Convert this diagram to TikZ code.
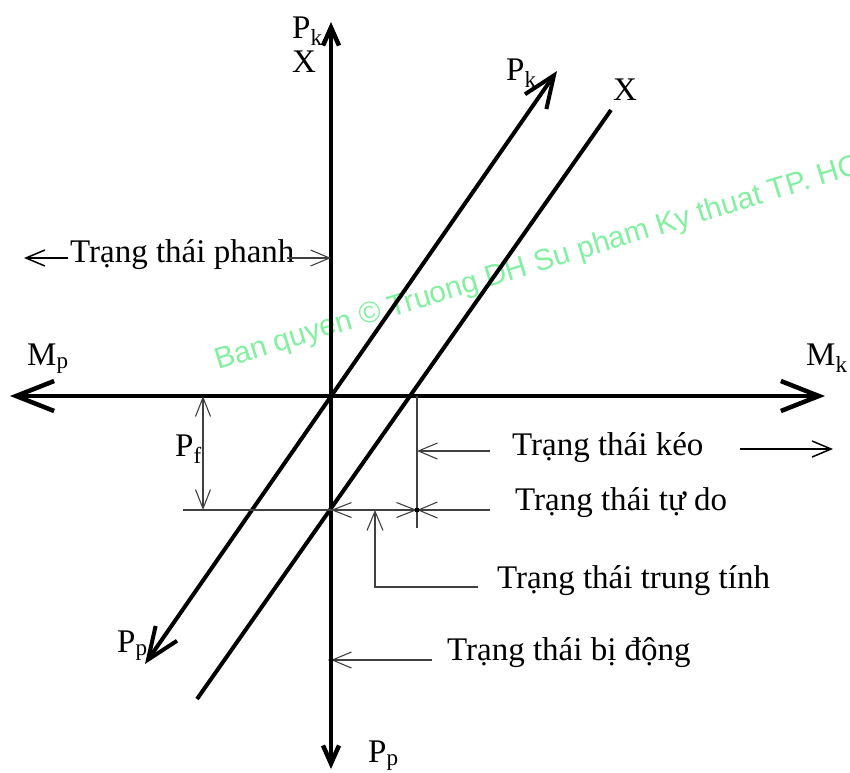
\documentclass[tikz,border=0pt]{standalone}
\usepackage{fontspec}
\setmainfont{Liberation Serif}
\newfontfamily\wmfont{Liberation Sans}
\usetikzlibrary{arrows.meta}
\definecolor{wmgreen}{RGB}{130,240,160}
\newcommand{\lsub}[2]{#1\textsubscript{#2}}

\tikzset{
  axis/.style={line width=4.5pt},
  diag/.style={line width=4pt},
  thin/.style={line width=1.1pt,black!75},
  arr/.style={line width=1.5pt},
  htip/.style={{Straight Barb[length=38pt,width=30pt]}-{Straight Barb[length=38pt,width=30pt]}},
  vtip/.style={-{Straight Barb[length=18pt,width=16pt]}},
  dtip/.style={{Straight Barb[length=32pt,width=26pt]}-{Straight Barb[length=32pt,width=26pt]}},
  ptip/.style={-{Straight Barb[length=19pt,width=16pt]}},
  dimtip/.style={{Straight Barb[length=19pt,width=15pt]}-{Straight Barb[length=19pt,width=15pt]}},
  lbl/.style={anchor=base west,inner sep=0pt},
  wm/.style={text=wmgreen,font=\wmfont\fontsize{29.8}{34}\selectfont,inner sep=0pt}
}

\begin{document}
\begin{tikzpicture}[x=1pt,y=-1pt,font=\fontsize{33}{38}\selectfont]
\useasboundingbox (0,0) rectangle (850,772);
% watermark
\begin{scope}
  \clip (0,0) rectangle (850,772);
  \node[wm,anchor=base west,rotate=17] (wm) at (218,370) {Ban quyen © Truong DH Su pham Ky thuat TP. HCM};
\end{scope}
% points
\coordinate (O) at (331,396);
\coordinate (Ml) at (10,396);   \coordinate (Mr) at (825,396);
\coordinate (Vt) at (331,22);   \coordinate (Vb) at (331,769);
\coordinate (Pt) at (557,71);   \coordinate (Pb) at (145,664);
\coordinate (Xt) at (611,110);  \coordinate (Xb) at (197,699);
\coordinate (F) at (331,510);   \coordinate (T) at (417,510);
\coordinate (K) at (417,396);   \coordinate (Kb) at (417,528);
\coordinate (Hl) at (183,510);  \coordinate (Hr) at (490,510);
\coordinate (Fa) at (203,396);  \coordinate (Fb) at (203,510);
\coordinate (B) at (331,660);
% axes
\draw[axis,htip] (Ml) -- (Mr);
\draw[axis,vtip] (O) -- (Vt);
\draw[axis,vtip] (O) -- (Vb);
\draw[diag,dtip] (Pb) -- (Pt);
\draw[diag] (Xb) -- (Xt);
% labels
\node[lbl] (pk1) at (292,38) {\lsub{P}{k}};
\node[lbl] (x1) at (292,72) {X};
\node[lbl] (pk2) at (506,80) {\lsub{P}{k}};
\node[lbl] (x2) at (613,100) {X};
\node[lbl] (mp) at (27,365) {\lsub{M}{p}};
\node[lbl] (mk) at (806,365) {\lsub{M}{k}};
\node[lbl] (pf) at (175,456) {\lsub{P}{f}};
\node[lbl] (pp1) at (117,652) {\lsub{P}{p}};
\node[lbl] (pp2) at (368,762) {\lsub{P}{p}};
% states
\node[lbl] (phanh) at (70,262) {Trạng thái phanh};
\node[lbl] (keo) at (512,455) {Trạng thái kéo};
\node[lbl] (tudo) at (515,510) {Trạng thái tự do};
\node[lbl] (trung) at (497,588) {Trạng thái trung tính};
\node[lbl] (bidong) at (447,660) {Trạng thái bị động};
% helper lines
\draw[thin] (Hl) -- (Hr);
\draw[thin] (K) -- (Kb);
\draw[thin,dimtip] (Fa) -- (Fb);
\draw[thin,dimtip] (F) -- (T);
\draw[thin,ptip] (Hr) -- (T);
\coordinate (ka) at (490,451); \coordinate (kb) at (417,451);
\draw[thin,ptip] (ka) -- (kb);
\coordinate (ta) at (478,587); \coordinate (tb) at (375,587); \coordinate (tc) at (375,510);
\draw[thin,ptip] (ta) -- (tb) -- (tc);
\coordinate (ba) at (432,660);
\draw[thin,ptip] (ba) -- (B);
\coordinate (pa) at (287,258); \coordinate (pb) at (331,258);
\draw[thin,ptip] (pa) -- (pb);
\coordinate (la) at (68,258); \coordinate (lb) at (24,258);
\draw[arr,ptip] (la) -- (lb);
\coordinate (ra) at (740,449); \coordinate (rb) at (833,449);
\draw[arr,ptip] (ra) -- (rb);
\fill (T) circle (2.5);
\fill (B) circle (2.5);
\end{tikzpicture}
\end{document}
